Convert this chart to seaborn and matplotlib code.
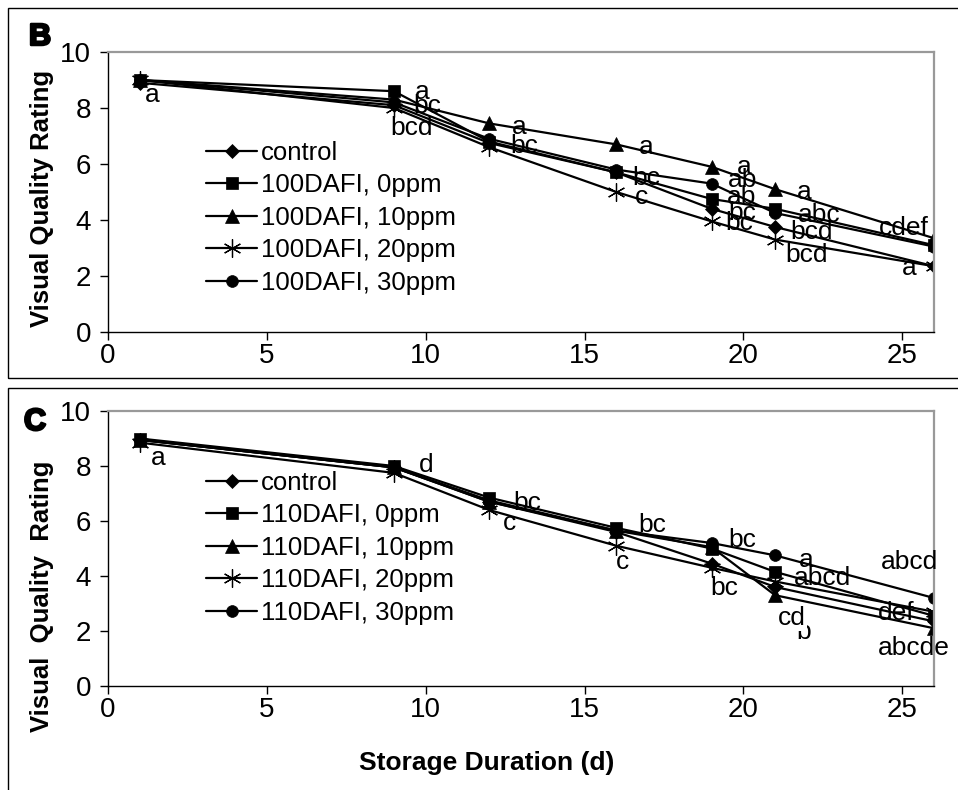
import matplotlib
matplotlib.use("Agg")
import matplotlib.pyplot as plt
import matplotlib.patheffects as pe
from matplotlib.patches import Rectangle
import seaborn as sns
import pandas as pd

days = [1, 9, 12, 16, 19, 21, 26]

labels_B = ["control", "100DAFI, 0ppm", "100DAFI, 10ppm", "100DAFI, 20ppm", "100DAFI, 30ppm"]
B_control = [8.9, 8.1, 6.75, 5.7, 4.4, 3.75, 2.35]
B_0ppm    = [9.0, 8.6, 6.8, 5.7, 4.75, 4.4, 3.1]
B_10ppm   = [9.0, 8.3, 7.45, 6.7, 5.9, 5.1, 3.35]
B_20ppm   = [9.0, 8.0, 6.6, 5.0, 3.95, 3.3, 2.35]
B_30ppm   = [9.0, 8.2, 6.9, 5.8, 5.3, 4.25, 3.05]

labels_C = ["control", "110DAFI, 0ppm", "110DAFI, 10ppm", "110DAFI, 20ppm", "110DAFI, 30ppm"]
C_control = [8.95, 7.95, 6.7, 5.6, 4.45, 3.6, 2.35]
C_0ppm    = [9.0, 8.0, 6.85, 5.75, 5.0, 4.15, 2.55]
C_10ppm   = [8.95, 7.95, 6.7, 5.65, 5.05, 3.3, 2.1]
C_20ppm   = [8.85, 7.75, 6.4, 5.1, 4.3, 3.8, 2.7]
C_30ppm   = [8.95, 7.95, 6.75, 5.65, 5.2, 4.75, 3.2]

ann_B_text = ["a", "a", "bc", "bcd", "a", "bc", "a", "bc", "c",
              "a", "ab", "ab", "bc", "bc", "a", "abc", "bcd", "bcd", "cdef", "a"]
ann_B_x = [1.38, 9.9, 10.06, 9.56, 12.96, 13.1, 16.95, 16.95, 16.8,
           20.03, 19.97, 19.94, 19.97, 19.87, 21.92, 22.4, 22.14, 21.98, 25.06, 25.22]
ann_B_y = [8.46, 8.57, 8.07, 7.29, 7.32, 6.64, 6.6, 5.5, 4.82,
           5.9, 5.43, 4.82, 4.25, 3.89, 5.0, 4.18, 3.57, 2.75, 3.71, 2.29]

ann_C_text = ["a", "d", "bc", "c", "bc", "c", "bc", "bc", "a", "abcd",
              "b", "cd", "abcd", "def", "abcde"]
ann_C_x = [1.57, 10.03, 13.2, 12.64, 17.14, 16.2, 19.97, 19.4, 21.98, 22.48,
           21.9, 21.54, 25.22, 24.8, 25.38]
ann_C_y = [8.29, 8.04, 6.65, 5.93, 5.85, 4.5, 5.31, 3.56, 4.58, 3.93,
           1.96, 2.47, 4.5, 2.65, 1.38]

xticks = [0, 5, 10, 15, 20, 25]
yticks = [0, 2, 4, 6, 8, 10]

sns.set_theme(style="white")
plt.rcParams["font.family"] = ["Liberation Sans", "DejaVu Sans"]
plt.rcParams["text.color"] = "black"

W, H = 958, 790
fig = plt.figure(figsize=(W / 100, H / 100), dpi=100)

markers = ["D", "s", "^", (6, 2, 0), "o"]
msizes = [7.5, 8.5, 9.5, 13, 8.5]


def px_axes(left, top, right, bottom):
    return fig.add_axes([left / W, 1 - bottom / H, (right - left) / W, (bottom - top) / H])


def draw_panel(ax, series, labels, ann_t, ann_x, ann_y, leg_top):
    for vals, lab, m, ms in zip(series, labels, markers, msizes):
        df = pd.DataFrame({"day": days, "rating": vals})
        kw = dict(marker=m, markersize=ms, color="black", linewidth=1.6,
                  markeredgecolor="black", markerfacecolor="black")
        kw["markeredgewidth"] = 0.9 if m == (6, 2, 0) else 0.5
        sns.lineplot(data=df, x="day", y="rating", ax=ax, label=lab, **kw)
    ax.set_xlim(0, 26)
    ax.set_ylim(0, 10)
    ax.set_xticks(xticks)
    ax.set_yticks(yticks)
    ax.set_xlabel("")
    ax.set_ylabel("")
    ax.tick_params(axis="both", labelsize=20, colors="black", direction="out",
                   length=6, width=1)
    ax.tick_params(axis="x", pad=2)
    ax.tick_params(axis="y", pad=6)
    ax.tick_params(bottom=True, left=True)
    for s in ["left", "bottom"]:
        ax.spines[s].set_color("black")
        ax.spines[s].set_linewidth(1.0)
    for s in ["top", "right"]:
        ax.spines[s].set_color("#999999")
        ax.spines[s].set_linewidth(1.6)
    for t, x, y in zip(ann_t, ann_x, ann_y):
        kw = {}
        if t == "cd":
            kw = dict(bbox=dict(facecolor="white", edgecolor="none", pad=0.5), zorder=6)
        ax.text(x, y, t, fontsize=19, ha="center", va="center", color="black", **kw)
    ax.legend(loc="upper left", bbox_to_anchor=(206 / W, 1 - leg_top / H),
              bbox_transform=fig.transFigure, frameon=False, fontsize=18.5,
              handlelength=2.0, handletextpad=0.15, labelspacing=0.33,
              borderpad=0, borderaxespad=0, labelcolor="black")


axB = px_axes(108, 52, 934, 332)
draw_panel(axB, [B_control, B_0ppm, B_10ppm, B_20ppm, B_30ppm], labels_B,
           ann_B_text, ann_B_x, ann_B_y, 141)

axC = px_axes(108, 411, 934, 686)
draw_panel(axC, [C_control, C_0ppm, C_10ppm, C_20ppm, C_30ppm], labels_C,
           ann_C_text, ann_C_x, ann_C_y, 471)

# y labels
fig.text(42 / W, 1 - 198 / H, "Visual Quality Rating", rotation=90, fontsize=18.5,
         fontweight="bold", ha="center", va="center")
fig.text(42 / W, 1 - 596 / H, "Visual  Quality  Rating", rotation=90, fontsize=18.5,
         fontweight="bold", ha="center", va="center")
# x label
fig.text(487 / W, 1 - 763 / H, "Storage Duration (d)", fontsize=19,
         fontweight="bold", ha="center", va="center")

# panel letters
for letter, (x, y) in [("B", (40, 37)), ("C", (35, 422))]:
    fig.text(x / W, 1 - y / H, letter, fontsize=22, fontweight="bold",
             ha="center", va="center", color="black",
             path_effects=[pe.withStroke(linewidth=1.8, foreground="black")])

# panel frames
fig.add_artist(Rectangle((8 / W, 1 - 378 / H), (W + 10) / W, 370 / H,
                         transform=fig.transFigure, fill=False,
                         edgecolor="black", linewidth=1.0))
fig.add_artist(Rectangle((8 / W, -0.05), (W + 10) / W, (H - 388) / H + 0.05,
                         transform=fig.transFigure, fill=False,
                         edgecolor="black", linewidth=1.0))

fig.savefig("out.png", dpi=100, facecolor="white")
